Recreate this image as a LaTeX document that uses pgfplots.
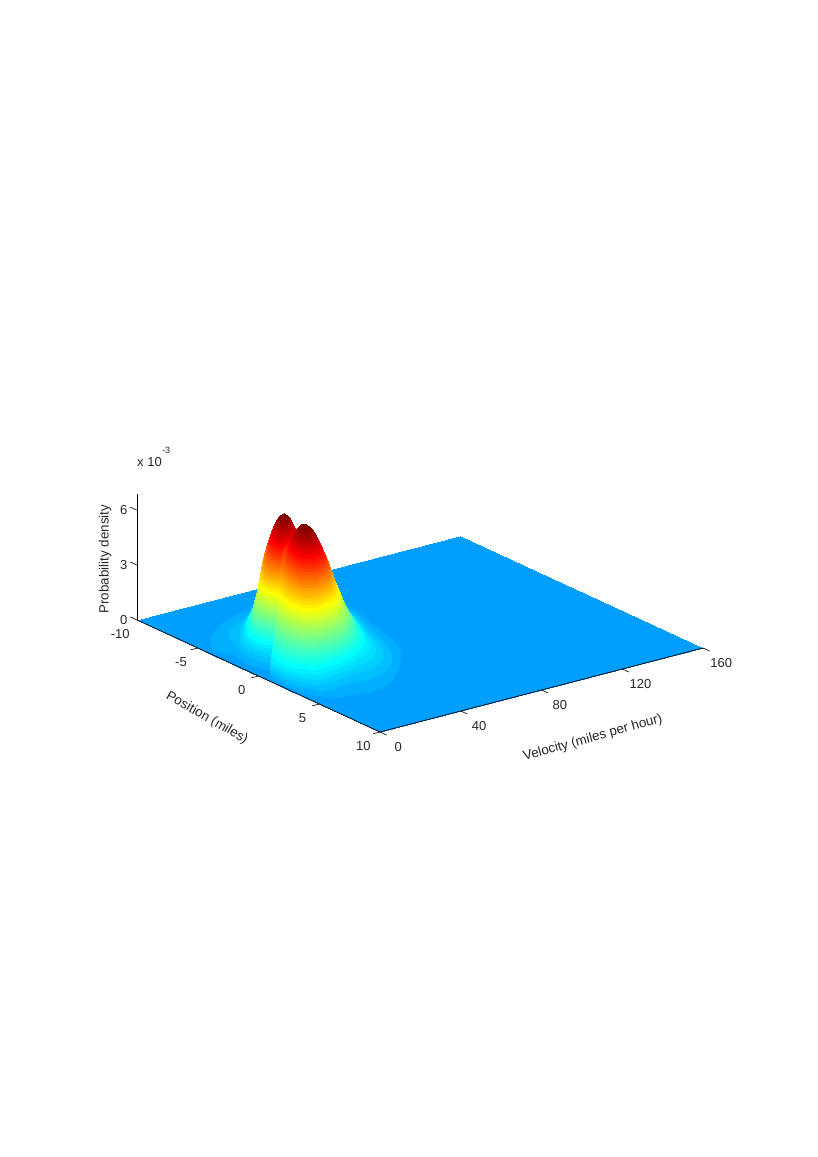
\documentclass[border=0pt]{standalone}
\usepackage{fontspec}
\setmainfont{Liberation Sans}
\usepackage{pgfplots}
\pgfplotsset{compat=1.18}
\pgfplotsset{
  colormap={stair}{
rgb255(0pt)=(0,159,255); rgb255(9pt)=(0,159,255);
rgb255(10pt)=(0,175,255); rgb255(19pt)=(0,175,255);
rgb255(20pt)=(0,191,255); rgb255(29pt)=(0,191,255);
rgb255(30pt)=(0,207,255); rgb255(39pt)=(0,207,255);
rgb255(40pt)=(0,223,255); rgb255(49pt)=(0,223,255);
rgb255(50pt)=(0,239,255); rgb255(59pt)=(0,239,255);
rgb255(60pt)=(0,255,255); rgb255(69pt)=(0,255,255);
rgb255(70pt)=(16,255,239); rgb255(79pt)=(16,255,239);
rgb255(80pt)=(32,255,223); rgb255(89pt)=(32,255,223);
rgb255(90pt)=(48,255,207); rgb255(99pt)=(48,255,207);
rgb255(100pt)=(64,255,191); rgb255(109pt)=(64,255,191);
rgb255(110pt)=(80,255,175); rgb255(119pt)=(80,255,175);
rgb255(120pt)=(96,255,159); rgb255(129pt)=(96,255,159);
rgb255(130pt)=(112,255,143); rgb255(139pt)=(112,255,143);
rgb255(140pt)=(128,255,128); rgb255(149pt)=(128,255,128);
rgb255(150pt)=(143,255,112); rgb255(159pt)=(143,255,112);
rgb255(160pt)=(159,255,96); rgb255(169pt)=(159,255,96);
rgb255(170pt)=(175,255,80); rgb255(179pt)=(175,255,80);
rgb255(180pt)=(191,255,64); rgb255(189pt)=(191,255,64);
rgb255(190pt)=(207,255,48); rgb255(199pt)=(207,255,48);
rgb255(200pt)=(223,255,32); rgb255(209pt)=(223,255,32);
rgb255(210pt)=(239,255,16); rgb255(219pt)=(239,255,16);
rgb255(220pt)=(255,255,0); rgb255(229pt)=(255,255,0);
rgb255(230pt)=(255,239,0); rgb255(239pt)=(255,239,0);
rgb255(240pt)=(255,223,0); rgb255(249pt)=(255,223,0);
rgb255(250pt)=(255,207,0); rgb255(259pt)=(255,207,0);
rgb255(260pt)=(255,191,0); rgb255(269pt)=(255,191,0);
rgb255(270pt)=(255,175,0); rgb255(279pt)=(255,175,0);
rgb255(280pt)=(255,159,0); rgb255(289pt)=(255,159,0);
rgb255(290pt)=(255,143,0); rgb255(299pt)=(255,143,0);
rgb255(300pt)=(255,128,0); rgb255(309pt)=(255,128,0);
rgb255(310pt)=(255,112,0); rgb255(319pt)=(255,112,0);
rgb255(320pt)=(255,96,0); rgb255(329pt)=(255,96,0);
rgb255(330pt)=(255,80,0); rgb255(339pt)=(255,80,0);
rgb255(340pt)=(255,64,0); rgb255(349pt)=(255,64,0);
rgb255(350pt)=(255,48,0); rgb255(359pt)=(255,48,0);
rgb255(360pt)=(255,32,0); rgb255(369pt)=(255,32,0);
rgb255(370pt)=(255,16,0); rgb255(379pt)=(255,16,0);
rgb255(380pt)=(255,0,0); rgb255(389pt)=(255,0,0);
rgb255(390pt)=(239,0,0); rgb255(399pt)=(239,0,0);
rgb255(400pt)=(223,0,0); rgb255(409pt)=(223,0,0);
rgb255(410pt)=(207,0,0); rgb255(419pt)=(207,0,0);
rgb255(420pt)=(191,0,0); rgb255(429pt)=(191,0,0);
rgb255(430pt)=(175,0,0); rgb255(439pt)=(175,0,0);
rgb255(440pt)=(159,0,0); rgb255(449pt)=(159,0,0);
rgb255(450pt)=(143,0,0); rgb255(459pt)=(143,0,0);
rgb255(460pt)=(128,0,0); rgb255(470pt)=(128,0,0);
  },
  common/.style={
    x={(2.019pt,0.525pt)},
    z={(0pt,18.3pt)},
    xmin=0,xmax=160,ymin=-10,ymax=10,zmin=0,zmax=6.9,
    xtick={0,40,80,120,160},xticklabels={0,40,80,120,160},
    ytick={-10,-5,0,5,10},yticklabels={-10,-5,0,5,10},
    ztick={0,3,6},zticklabels={0,3,6},
    anchor=origin,at={(258.5pt,481pt)},
    clip=false,
    axis lines*=left,
    tick align=outside,
    major tick length=8pt,
    major tick style={draw=none},
    axis line style={black,line width=0.7pt,-},
    tick label style={font=\fontsize{13}{15}\selectfont,text=black!85},
    label style={font=\fontsize{13.4}{15}\selectfont,text=black!85},
    colormap name=stair,
    point meta min=0,point meta max=6.4,
  },
}
\begin{document}
\begin{tikzpicture}
\useasboundingbox (0,0) rectangle (817pt,1157pt);
\begin{axis}[common,
  y dir=reverse,
  y={(-12.15pt,5.6pt)},
  hide z axis,
  axis on top,
  xticklabel style={anchor=center,xshift=11pt,yshift=-12pt},
  yticklabel style={anchor=center,xshift=-9pt,yshift=-12pt},
  xlabel={Velocity (miles per hour)},
  ylabel={Position (miles)},
  xlabel style={at={(axis cs:63.3,17.0,0)},anchor=center,rotate=15.7},
  ylabel style={at={(axis cs:-45.2,3.27,0)},anchor=center,rotate=-29.5},
]
% floor
\addplot3[surf,shader=interp,z buffer=default,mesh/rows=2,mesh/cols=2] table {
x y z
0 -10 0
160 -10 0
0 10 0
160 10 0
};
% rear lobe
\addplot3[surf,shader=interp,z buffer=default,mesh/rows=16,mesh/cols=17] table {
x y z
38.4 -10 0
44.8 -9.91 0
50.3 -9.68 .01
55.2 -9.5 .01
58.4 -9.49 .02
61.7 -9.47 .04
64.5 -9.49 .07
67.2 -9.52 .12
68.2 -9.36 .14
69.2 -9.19 .16
70.2 -9.03 .18
71.2 -8.87 .19
72.2 -8.7 .19
73.2 -8.53 .19
74.2 -8.37 .18
75.2 -8.21 .16
77.2 -7.88 .12
28.1 -8.76 0
34.5 -8.59 .03
40.0 -8.36 .05
44.9 -8.18 .07
48.1 -8.17 .13
51.4 -8.15 .26
54.2 -8.17 .48
56.9 -8.2 .78
57.9 -8.04 .93
58.9 -7.87 1.07
59.9 -7.71 1.18
60.9 -7.55 1.25
61.9 -7.38 1.28
62.9 -7.21 1.25
63.9 -7.05 1.18
64.9 -6.89 1.07
66.8 -6.56 .78
20.4 -7.77 0
26.8 -7.6 .07
32.3 -7.37 .13
37.2 -7.19 .17
40.4 -7.18 .31
43.6 -7.16 .62
46.5 -7.18 1.17
49.2 -7.21 1.89
50.2 -7.05 2.26
51.2 -6.88 2.61
52.2 -6.72 2.88
53.1 -6.56 3.05
54.1 -6.39 3.12
55.1 -6.22 3.05
56.1 -6.06 2.88
57.1 -5.9 2.61
59.1 -5.57 1.89
15.2 -7.11 0
21.6 -6.94 .11
27.1 -6.71 .19
32.0 -6.53 .25
35.2 -6.52 .46
38.5 -6.5 .93
41.3 -6.52 1.74
44.0 -6.55 2.82
45.0 -6.39 3.38
46.0 -6.22 3.88
47.0 -6.06 4.29
48.0 -5.9 4.55
49.0 -5.73 4.65
50.0 -5.56 4.55
51.0 -5.4 4.29
52.0 -5.24 3.88
53.9 -4.91 2.82
11.3 -6.61 0
17.7 -6.44 .13
23.3 -6.21 .23
28.2 -6.03 .31
31.4 -6.02 .56
34.6 -6.0 1.13
37.5 -6.02 2.12
40.2 -6.05 3.42
41.2 -5.89 4.10
42.1 -5.72 4.72
43.1 -5.56 5.22
44.1 -5.4 5.53
45.1 -5.23 5.65
46.1 -5.06 5.53
47.1 -4.9 5.22
48.1 -4.74 4.72
50.1 -4.41 3.42
8.8 -6.28 0
15.2 -6.11 .14
20.7 -5.88 .25
25.6 -5.7 .33
28.8 -5.69 .61
32.0 -5.67 1.22
34.9 -5.69 2.29
37.6 -5.72 3.71
38.6 -5.56 4.45
39.6 -5.39 5.11
40.6 -5.23 5.65
41.5 -5.07 5.99
42.5 -4.9 6.12
43.5 -4.73 5.99
44.5 -4.57 5.65
45.5 -4.41 5.11
47.5 -4.08 3.71
6.8 -6.04 0
13.2 -5.87 .15
18.8 -5.64 .26
23.7 -5.46 .35
26.8 -5.45 .63
30.1 -5.43 1.27
33.0 -5.45 2.37
35.6 -5.48 3.84
36.6 -5.32 4.60
37.6 -5.15 5.29
38.6 -4.99 5.84
39.6 -4.83 6.20
40.6 -4.66 6.33
41.6 -4.49 6.20
42.6 -4.33 5.84
43.6 -4.17 5.29
45.6 -3.84 3.84
4.88 -5.79 0
11.28 -5.62 .15
16.82 -5.39 .26
21.72 -5.21 .35
24.91 -5.2 .64
28.16 -5.18 1.28
31.02 -5.2 2.40
33.71 -5.23 3.88
34.70 -5.07 4.65
35.69 -4.9 5.35
36.69 -4.74 5.91
37.67 -4.58 6.27
38.67 -4.41 6.40
39.67 -4.24 6.27
40.65 -4.08 5.91
41.65 -3.92 5.35
43.63 -3.59 3.88
2.3 -5.46 0
8.7 -5.29 .15
14.2 -5.06 .25
19.1 -4.88 .34
22.3 -4.87 .63
25.6 -4.85 1.25
28.4 -4.87 2.35
31.1 -4.9 3.80
32.1 -4.74 4.56
33.1 -4.57 5.24
34.1 -4.41 5.79
35.1 -4.25 6.14
36.1 -4.08 6.27
37.1 -3.91 6.14
38.1 -3.75 5.79
39.1 -3.59 5.24
41.1 -3.26 3.80
0 -4.97 0
4.8 -4.8 .13
10.4 -4.57 .23
15.3 -4.39 .31
18.5 -4.38 .56
21.7 -4.36 1.13
24.6 -4.38 2.12
27.3 -4.41 3.42
28.3 -4.25 4.10
29.2 -4.08 4.72
30.2 -3.92 5.22
31.2 -3.76 5.53
32.2 -3.59 5.65
33.2 -3.42 5.53
34.2 -3.26 5.22
35.2 -3.1 4.72
37.2 -2.77 3.42
0 -4.47 0
1.0 -4.3 .11
6.5 -4.07 .19
11.4 -3.89 .25
14.6 -3.88 .46
17.9 -3.86 .93
20.7 -3.88 1.74
23.4 -3.91 2.82
24.4 -3.75 3.38
25.4 -3.58 3.88
26.4 -3.42 4.29
27.4 -3.26 4.55
28.4 -3.09 4.65
29.4 -2.92 4.55
30.3 -2.76 4.29
31.3 -2.6 3.88
33.3 -2.27 2.82
0 -3.98 0
0 -3.81 0
2.6 -3.58 .13
7.5 -3.4 .18
10.7 -3.39 .32
14.0 -3.37 .64
16.8 -3.39 1.20
19.5 -3.42 1.94
20.5 -3.26 2.33
21.5 -3.09 2.68
22.5 -2.93 2.96
23.5 -2.77 3.14
24.5 -2.6 3.20
25.5 -2.43 3.14
26.5 -2.27 2.96
27.5 -2.11 2.68
29.5 -1.78 1.94
0 -3.32 0
0 -3.15 0
0 -2.92 0
2.4 -2.74 .08
5.6 -2.73 .15
8.8 -2.71 .31
11.7 -2.73 .58
14.4 -2.76 .93
15.4 -2.6 1.12
16.4 -2.43 1.28
17.3 -2.27 1.42
18.3 -2.11 1.50
19.3 -1.94 1.54
20.3 -1.77 1.50
21.3 -1.61 1.42
22.3 -1.45 1.28
24.3 -1.12 .93
0 -2.66 0
0 -2.49 0
0 -2.26 0
0 -2.08 0
.4 -2.07 .06
3.7 -2.05 .13
6.5 -2.07 .24
9.2 -2.1 .39
10.2 -1.94 .47
11.2 -1.77 .54
12.2 -1.61 .59
13.2 -1.45 .63
14.2 -1.28 .64
15.2 -1.11 .63
16.2 -.95 .59
17.2 -.79 .54
19.1 -.46 .39
0 -1.83 0
0 -1.66 0
0 -1.43 0
0 -1.25 0
0 -1.24 0
0 -1.22 0
.1 -1.24 .02
2.8 -1.27 .12
3.8 -1.11 .14
4.8 -.94 .16
5.8 -.78 .18
6.7 -.62 .19
7.7 -.45 .19
8.7 -.28 .19
9.7 -.12 .18
10.7 .04 .16
12.7 .37 .12
0 -1.01 0
0 -.84 0
0 -.61 0
0 -.43 0
0 -.42 0
0 -.4 0
0 -.42 0
0 -.45 0
0 -.29 0
0 -.12 0
0 .04 0
.28 .2 0
1.28 .37 0
2.28 .54 0
3.26 .7 0
4.26 .86 0
6.24 1.19 0
};
% front lobe
\addplot3[surf,shader=interp,z buffer=default,mesh/rows=17,mesh/cols=17] table {
x y z
69.4 -8.14 .14
70.0 -7.8 .16
70.5 -7.46 .18
71.1 -7.13 .19
71.6 -6.79 .19
72.2 -6.45 .19
72.7 -6.12 .18
73.3 -5.78 .16
73.8 -5.44 .14
74.4 -5.11 .12
75.4 -4.43 .08
76.5 -3.76 .04
77.6 -3.08 .02
78.7 -2.41 .02
79.8 -1.73 .01
80.9 -1.06 .01
82.3 -.22 0
59.1 -6.82 .93
59.7 -6.48 1.07
60.2 -6.14 1.18
60.8 -5.81 1.25
61.3 -5.47 1.28
61.9 -5.13 1.25
62.4 -4.8 1.18
62.9 -4.46 1.07
63.5 -4.12 .93
64.0 -3.79 .78
65.1 -3.11 .50
66.2 -2.44 .28
67.3 -1.76 .17
68.4 -1.09 .12
69.5 -.41 .08
70.6 .26 .04
72.0 1.1 0
51.4 -5.83 2.26
51.9 -5.49 2.61
52.5 -5.15 2.88
53.0 -4.82 3.05
53.6 -4.48 3.12
54.1 -4.14 3.05
54.7 -3.81 2.88
55.2 -3.47 2.61
55.8 -3.13 2.26
56.3 -2.8 1.89
57.4 -2.12 1.22
58.5 -1.45 .69
59.6 -.77 .40
60.7 -.1 .28
61.8 .58 .19
62.9 1.25 .11
64.2 2.09 0
46.2 -5.17 3.38
46.8 -4.83 3.88
47.3 -4.49 4.29
47.9 -4.16 4.55
48.4 -3.82 4.65
49.0 -3.48 4.55
49.5 -3.15 4.29
50.0 -2.81 3.88
50.6 -2.47 3.38
51.1 -2.14 2.82
52.2 -1.46 1.82
53.3 -.79 1.02
54.4 -.11 .60
55.5 .56 .42
56.6 1.24 .28
57.7 1.91 .16
59.1 2.75 0
42.4 -4.67 4.10
42.9 -4.33 4.72
43.5 -3.99 5.22
44.0 -3.66 5.53
44.5 -3.32 5.65
45.1 -2.98 5.53
45.6 -2.65 5.22
46.2 -2.31 4.72
46.7 -1.97 4.10
47.3 -1.64 3.42
48.4 -.96 2.21
49.5 -.29 1.24
50.6 .39 .73
51.7 1.06 .51
52.8 1.74 .34
53.9 2.41 .19
55.2 3.25 0
39.8 -4.34 4.45
40.3 -4.0 5.11
40.9 -3.66 5.65
41.4 -3.33 5.99
42.0 -2.99 6.12
42.5 -2.65 5.99
43.1 -2.32 5.65
43.6 -1.98 5.11
44.2 -1.64 4.45
44.7 -1.31 3.71
45.8 -.63 2.39
46.9 .04 1.35
48.0 .72 .79
49.1 1.39 .55
50.2 2.07 .36
51.3 2.74 .21
52.6 3.58 0
37.8 -4.1 4.60
38.4 -3.76 5.29
38.9 -3.42 5.84
39.5 -3.09 6.20
40.0 -2.75 6.33
40.6 -2.41 6.20
41.1 -2.08 5.84
41.7 -1.74 5.29
42.2 -1.4 4.60
42.8 -1.07 3.84
43.9 -.39 2.47
45.0 .28 1.39
46.0 .96 .82
47.1 1.63 .57
48.2 2.31 .38
49.3 2.98 .22
50.7 3.82 0
35.90 -3.85 4.65
36.45 -3.51 5.35
37.0 -3.17 5.91
37.54 -2.84 6.27
38.09 -2.5 6.40
38.64 -2.16 6.27
39.18 -1.83 5.91
39.73 -1.49 5.35
40.28 -1.15 4.65
40.83 -.82 3.88
41.92 -.14 2.50
43.02 .53 1.41
44.11 1.21 .83
45.21 1.88 .58
46.30 2.56 .38
47.40 3.23 .22
48.76 4.07 0
33.3 -3.52 4.56
33.9 -3.18 5.24
34.4 -2.84 5.79
35.0 -2.51 6.14
35.5 -2.17 6.27
36.1 -1.83 6.14
36.6 -1.5 5.79
37.2 -1.16 5.24
37.7 -.82 4.56
38.3 -.49 3.80
39.3 .19 2.45
40.4 .86 1.38
41.5 1.54 .81
42.6 2.21 .57
43.7 2.89 .37
44.8 3.56 .22
46.2 4.4 0
29.5 -3.03 4.10
30.0 -2.69 4.72
30.6 -2.35 5.22
31.1 -2.02 5.53
31.6 -1.68 5.65
32.2 -1.34 5.53
32.7 -1.01 5.22
33.3 -.67 4.72
33.8 -.33 4.10
34.4 0 3.42
35.5 .68 2.21
36.6 1.35 1.24
37.7 2.03 .73
38.8 2.7 .51
39.9 3.38 .34
41.0 4.05 .19
42.3 4.89 0
25.6 -2.53 3.38
26.1 -2.19 3.88
26.7 -1.85 4.29
27.2 -1.52 4.55
27.8 -1.18 4.65
28.3 -.84 4.55
28.9 -.51 4.29
29.4 -.17 3.88
30.0 .17 3.38
30.5 .5 2.82
31.6 1.18 1.82
32.7 1.85 1.02
33.8 2.53 .60
34.9 3.2 .42
36.0 3.88 .28
37.1 4.55 .16
38.5 5.39 0
21.7 -2.04 2.70
22.3 -1.7 3.10
22.8 -1.36 3.43
23.4 -1.03 3.64
23.9 -.69 3.71
24.5 -.35 3.64
25.0 -.02 3.43
25.6 .32 3.10
26.1 .66 2.70
26.7 .99 2.25
27.7 1.67 1.45
28.8 2.34 .82
29.9 3.02 .48
31.0 3.69 .34
32.1 4.37 .22
33.2 5.04 .13
34.6 5.88 0
16.6 -1.38 1.81
17.1 -1.04 2.09
17.7 -.7 2.30
18.2 -.37 2.45
18.8 -.03 2.50
19.3 .31 2.45
19.8 .64 2.30
20.4 .98 2.09
20.9 1.32 1.81
21.5 1.65 1.51
22.6 2.33 .98
23.7 3.0 .55
24.8 3.68 .32
25.9 4.35 .23
27.0 5.03 .15
28.1 5.7 .09
29.4 6.54 0
11.4 -.72 1.16
12.0 -.38 1.34
12.5 -.04 1.48
13.1 .29 1.57
13.6 .63 1.60
14.2 .97 1.57
14.7 1.3 1.48
15.2 1.64 1.34
15.8 1.98 1.16
16.3 2.31 .97
17.4 2.99 .63
18.5 3.66 .35
19.6 4.34 .21
20.7 5.01 .15
21.8 5.69 .10
22.9 6.36 .06
24.3 7.2 0
5.0 .11 .65
5.5 .45 .75
6.1 .79 .83
6.6 1.12 .88
7.2 1.46 .90
7.7 1.8 .88
8.2 2.13 .83
8.8 2.47 .75
9.3 2.81 .65
9.9 3.14 .54
11.0 3.82 .35
12.1 4.49 .20
13.2 5.17 .12
14.3 5.84 .08
15.4 6.52 .05
16.5 7.19 .03
17.8 8.03 0
0 .93 0
0 1.27 0
0 1.61 .05
.15 1.94 .08
.7 2.28 .26
1.25 2.62 .25
1.8 2.95 .24
2.3 3.29 .21
2.9 3.63 .19
3.4 3.96 .16
4.5 4.64 .10
5.6 5.31 .06
6.7 5.99 .03
7.8 6.66 .02
8.9 7.34 .02
10.0 8.01 .01
11.4 8.85 0
0 1.76 0
0 2.1 0
0 2.44 0
0 2.77 0
0 3.11 0
0 3.45 0
0 3.78 0
0 4.12 0
0 4.46 0
0 4.79 0
0 5.47 0
0 6.14 0
.28 6.82 0
1.38 7.49 0
2.47 8.17 0
3.57 8.84 0
4.93 9.68 0
};
% axis ticks
\addplot3[black,line width=0.6pt,forget plot] coordinates {(0,10,0)(0,10.55,0)};
\addplot3[black,line width=0.6pt,forget plot] coordinates {(40,10,0)(40,10.55,0)};
\addplot3[black,line width=0.6pt,forget plot] coordinates {(80,10,0)(80,10.55,0)};
\addplot3[black,line width=0.6pt,forget plot] coordinates {(120,10,0)(120,10.55,0)};
\addplot3[black,line width=0.6pt,forget plot] coordinates {(160,10,0)(160,10.55,0)};
\addplot3[black,line width=0.6pt,forget plot] coordinates {(0,-5,0)(-3.5,-5,0)};
\addplot3[black,line width=0.6pt,forget plot] coordinates {(0,0,0)(-3.5,0,0)};
\addplot3[black,line width=0.6pt,forget plot] coordinates {(0,5,0)(-3.5,5,0)};
\addplot3[black,line width=0.6pt,forget plot] coordinates {(0,10,0)(-3.5,10,0)};
\addplot3[black,line width=0.6pt,forget plot] coordinates {(0,-10,0)(0,-10.55,0)};
\addplot3[black,line width=0.6pt,forget plot] coordinates {(0,-10,3)(0,-10.55,3)};
\addplot3[black,line width=0.6pt,forget plot] coordinates {(0,-10,6)(0,-10.55,6)};
\end{axis}
\begin{axis}[common,
  y={(12.15pt,-5.6pt)},
  hide x axis,hide y axis,
  zticklabel style={anchor=center,xshift=-6pt,yshift=-3pt},
  zlabel={Probability density},
  zlabel style={at={(axis cs:31.8,-17.9,0)},anchor=center,rotate=0},
]
\end{axis}
\node[anchor=west,font=\fontsize{13}{15}\selectfont,text=black!85,inner sep=0pt] at (137pt,695pt) {x 10};
\node[anchor=west,font=\fontsize{9}{11}\selectfont,text=black!85,inner sep=0pt] at (162pt,707pt) {-3};
\end{tikzpicture}
\end{document}
